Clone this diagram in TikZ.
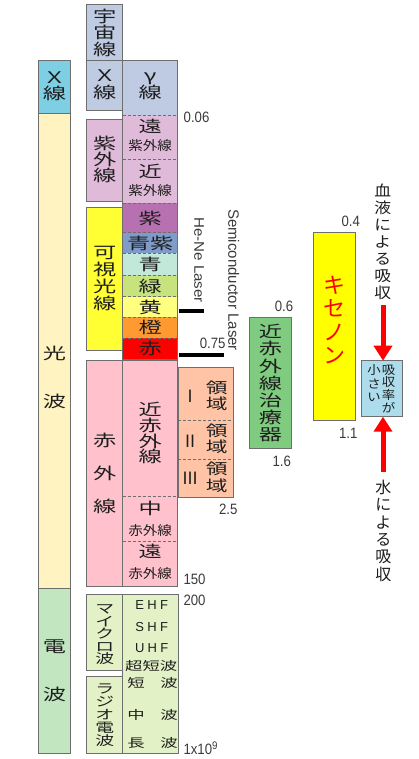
\documentclass[tikz,border=0pt]{standalone}
\usepackage{fontspec}
\setmainfont{Noto Sans CJK JP}
\newfontfamily\jp{Noto Sans CJK JP}
\newfontfamily\jpw[FakeStretch=1.45]{Noto Sans CJK JP}
\newfontfamily\jpm[FakeStretch=1.12]{Noto Sans CJK JP}
\newfontfamily\lat{Liberation Sans}
\newfontfamily\latw[FakeStretch=1.08]{Liberation Sans}
\newfontfamily\numf[FakeStretch=0.88]{Liberation Sans}
\usetikzlibrary{arrows.meta}
\newcommand\FW[2]{\jpw\fontsize{#1}{#2}\selectfont\lineskiplimit=-100pt\lineskip=0pt}
\newcommand\FM[2]{\jpm\fontsize{#1}{#2}\selectfont\lineskiplimit=-100pt\lineskip=0pt}
\newcommand\FJ[2]{\jp\fontsize{#1}{#2}\selectfont\lineskiplimit=-100pt\lineskip=0pt}
\definecolor{edge}{HTML}{6E6E6E}
\definecolor{ink}{HTML}{1E1E1E}
\definecolor{numc}{HTML}{3A3A3A}
\definecolor{xcyan}{HTML}{7ECFE4}
\definecolor{lightw}{HTML}{FFF3C2}
\definecolor{radio}{HTML}{C2E6C0}
\definecolor{gamc}{HTML}{BFCBE3}
\definecolor{uvc}{HTML}{E0BAD9}
\definecolor{visy}{HTML}{FFFF33}
\definecolor{cpurp}{HTML}{B871B0}
\definecolor{cbv}{HTML}{7F9CC9}
\definecolor{cblue}{HTML}{C2E8DA}
\definecolor{cgreen}{HTML}{C6E37E}
\definecolor{cyel}{HTML}{FFFF80}
\definecolor{corange}{HTML}{FF9A30}
\definecolor{cred}{HTML}{FF0000}
\definecolor{irc}{HTML}{FFC2CC}
\definecolor{regc}{HTML}{FFC4A6}
\definecolor{therc}{HTML}{7FCB7F}
\definecolor{xenon}{HTML}{FFFF00}
\definecolor{absc}{HTML}{ADDDEC}
\definecolor{mwc}{HTML}{E3F2C6}
\tikzset{
  cellst/.style={inner sep=0pt, outer sep=0pt, anchor=north west, line width=0.9pt},
  edgeline/.style={draw=edge, line width=0.9pt},
  divline/.style={draw=edge, line width=0.8pt, dash pattern=on 3pt off 2pt},
  jt/.style={align=center, inner sep=0pt, text=ink},
  numlab/.style={font=\numf\fontsize{15}{17}\selectfont, inner sep=0pt, text=numc},
  barline/.style={draw=black, line width=3.3pt},
  redarrow/.style={draw=red, line width=5pt, -{Triangle[length=15pt,width=18pt]}},
}
\newcommand\cell[6]{\node[cellst, #6, minimum width={(#4)-(#2)}, minimum height={(#5)-(#3)}] (#1) at (#2,#3) {};}
\begin{document}
\begin{tikzpicture}[x=1pt,y=-1pt]
\useasboundingbox (0,0) rectangle (418,759);

% ---- left column
\cell{lx}{38.3}{60.7}{70.7}{113.3}{fill=xcyan, draw=edge}
\cell{lhk}{38.3}{113.3}{70.7}{588.3}{fill=lightw, draw=edge}
\cell{ldp}{38.3}{588.3}{70.7}{753.3}{fill=radio, draw=edge}
\node[jt, font=\FW{16}{16}] (tlx) at (54.5,86) {Ｘ\\線};
\node[jt, font=\FW{16}{48}] (tlhk) at (54.5,377) {光\\波};
\node[jt, font=\FW{16}{48}] (tldp) at (54.5,671) {電\\波};

% ---- second column
\cell{cosm}{86.7}{4}{122.7}{60.7}{fill=gamc, draw=edge}
\cell{mx}{86.7}{60.7}{122.7}{110.7}{fill=gamc, draw=edge}
\cell{muv}{86.7}{119.3}{122.7}{201.7}{fill=uvc, draw=edge}
\cell{mvis}{86.7}{207.3}{122.7}{350}{fill=visy, draw=edge}
\cell{mir}{86.7}{360}{122.7}{586}{fill=irc, draw=edge}
\cell{mmw}{86.7}{594}{122.7}{670.7}{fill=mwc, draw=edge}
\cell{mrad}{86.7}{676}{122.7}{753.3}{fill=mwc, draw=edge}
\node[jt, font=\FW{16}{16.6}] (tcosm) at (104.7,32.7) {宇\\宙\\線};
\node[jt, font=\FW{16}{16.6}] (tmx) at (104.7,85) {Ｘ\\線};
\node[jt, font=\FW{16}{16}] (tmuv) at (104.7,159.5) {紫\\外\\線};
\node[jt, font=\FW{16}{17}] (tmvis) at (104.7,278.5) {可\\視\\光\\線};
\node[jt, font=\FW{16}{33.3}] (tmir) at (104.7,473.5) {赤\\外\\線};
\node[jt, font=\FW{13}{12.4}] (tmmw) at (104.7,634.7) {マ\\イ\\ク\\ロ\\波};
\node[jt, font=\FW{13}{13}] (tmrad) at (104.7,715.5) {ラ\\ジ\\オ\\電\\波};

% ---- third column
\cell{gm}{122.7}{60.7}{177.7}{115.7}{fill=gamc}
\cell{fuv}{122.7}{115.7}{177.7}{159.3}{fill=uvc}
\cell{nuv}{122.7}{159.3}{177.7}{203.3}{fill=uvc}
\cell{vp}{122.7}{203.3}{177.7}{232.7}{fill=cpurp}
\cell{vbv}{122.7}{232.7}{177.7}{253.3}{fill=cbv}
\cell{vb}{122.7}{253.3}{177.7}{275.3}{fill=cblue}
\cell{vg}{122.7}{275.3}{177.7}{296.7}{fill=cgreen}
\cell{vy}{122.7}{296.7}{177.7}{317.3}{fill=cyel}
\cell{vo}{122.7}{317.3}{177.7}{338.3}{fill=corange}
\cell{vr}{122.7}{338.3}{177.7}{359.3}{fill=cred}
\foreach \c in {gm,fuv,nuv,vp,vbv,vb,vg,vy,vo}
  \draw[divline] (\c.south west) -- (\c.south east);
\draw[edgeline] (gm.north west) rectangle (vr.south east);

\cell{nir}{122.7}{360}{177.7}{496.7}{fill=irc}
\cell{mdir}{122.7}{496.7}{177.7}{541.7}{fill=irc}
\cell{fir}{122.7}{541.7}{177.7}{586}{fill=irc}
\foreach \c in {nir,mdir}
  \draw[divline] (\c.south west) -- (\c.south east);
\draw[edgeline] (nir.north west) rectangle (fir.south east);

\cell{mwr}{122.7}{594}{178.3}{753.3}{fill=mwc, draw=edge}

\node[jt, font=\FW{16}{16.5}] (tgm) at (150.2,86) {γ\\線};
\node[jt, font=\FW{16}{16}] (tfuv1) at (150.2,126.7) {遠};
\node[jt, font=\FM{13}{14}] (tfuv2) at (150.2,145.7) {紫外線};
\node[jt, font=\FW{16}{16}] (tnuv1) at (150.2,171) {近};
\node[jt, font=\FM{13}{14}] (tnuv2) at (150.2,190.7) {紫外線};
\node[jt, font=\FW{16}{16}] (tvp) at (vp.center) {紫};
\node[jt, font=\FW{16}{16}] (tvbv) at (vbv.center) {青紫};
\node[jt, font=\FW{16}{16}] (tvb) at (vb.center) {青};
\node[jt, font=\FW{16}{16}] (tvg) at (vg.center) {緑};
\node[jt, font=\FW{16}{16}] (tvy) at (vy.center) {黄};
\node[jt, font=\FW{16}{16}] (tvo) at (vo.center) {橙};
\node[jt, font=\FW{16}{16}] (tvr) at (vr.center) {赤};
\node[jt, font=\FW{16}{15.6}] (tnir) at (150.2,433.3) {近\\赤\\外\\線};
\node[jt, font=\FW{16}{16}] (tmdir1) at (150.2,508.3) {中};
\node[jt, font=\FM{13}{14}] (tmdir2) at (150.2,530.7) {赤外線};
\node[jt, font=\FW{16}{16}] (tfir1) at (150.2,551.7) {遠};
\node[jt, font=\FM{13}{14}] (tfir2) at (150.2,573.3) {赤外線};

% microwave / radio labels
\node[jt, font=\lat\fontsize{13}{14}\selectfont] (tehf) at (151.7,605) {E\kern3.3pt H\kern3.3pt F};
\node[jt, font=\lat\fontsize{13}{14}\selectfont] (tshf) at (151.7,626.7) {S\kern3.3pt H\kern3.3pt F};
\node[jt, font=\lat\fontsize{13}{14}\selectfont] (tuhf) at (151.7,647.7) {U\kern3.3pt H\kern3.3pt F};
\node[jt, font=\FW{12}{13}] (tvhf) at (151.2,666) {超短波};
\node[jt, font=\FW{12}{13}] (tsw1) at (136,683.3) {短};
\node[jt, font=\FW{12}{13}] (tsw2) at (169,683.3) {波};
\node[jt, font=\FW{12}{13}] (tmw1) at (136,715) {中};
\node[jt, font=\FW{12}{13}] (tmw2) at (169,715) {波};
\node[jt, font=\FW{12}{13}] (tlw1) at (136,743.3) {長};
\node[jt, font=\FW{12}{13}] (tlw2) at (169,743.3) {波};

% ---- region box
\cell{rga}{178.3}{367.3}{233.3}{420}{fill=regc}
\cell{rgb}{178.3}{420}{233.3}{459.3}{fill=regc}
\cell{rgc}{178.3}{459.3}{233.3}{497.3}{fill=regc}
\foreach \c in {rga,rgb}
  \draw[divline] (\c.south west) -- (\c.south east);
\draw[edgeline] (rga.north west) rectangle (rgc.south east);
\node[jt, font=\FJ{17}{18}] (tra1) at (190,396.7) {Ⅰ};
\node[jt, font=\FW{15}{15.5}] (tra2) at (216.7,395.8) {領\\域};
\node[jt, font=\FJ{17}{18}] (trb1) at (190,441.7) {Ⅱ};
\node[jt, font=\FW{15}{16.5}] (trb2) at (216.7,439) {領\\域};
\node[jt, font=\FJ{17}{18}] (trc1) at (190,478.3) {Ⅲ};
\node[jt, font=\FW{15}{16.5}] (trc2) at (216.7,477.5) {領\\域};

% ---- lasers
\coordinate (hnA) at (179.3,311);
\coordinate (hnB) at (204,311);
\coordinate (sdA) at (179.3,355);
\coordinate (sdB) at (224,355);
\draw[barline] (hnA) -- (hnB);
\draw[barline] (sdA) -- (sdB);
\node[inner sep=0pt, text=numc, rotate=-90, font=\latw\fontsize{14}{16}\selectfont] (thene) at (199,260) {He-Ne Laser};
\node[inner sep=0pt, text=numc, rotate=-90, font=\lat\fontsize{15}{17}\selectfont] (tsemi) at (233.8,280) {Semiconductor Laser};

% ---- therapy device
\cell{ther}{249.3}{317.3}{291.7}{448.3}{fill=therc, draw=edge}
\node[jt, font=\FW{16}{17.2}] (tther) at (270.5,383.3) {近\\赤\\外\\線\\治\\療\\器};

% ---- xenon
\cell{xen}{313.3}{232.3}{355.7}{420.7}{fill=xenon, draw=edge}
\node[jt, text=red, font=\FJ{22}{23.3}] (txen) at (334.5,320) {キ\\セ\\ノ\\ン};

% ---- absorption
\cell{absb}{361}{360.7}{402.3}{416.7}{fill=absc, draw=edge}
\node[jt, anchor=north, font=\FM{12}{12.7}] (tabs1) at (388.7,364.5) {吸\\収\\率\\が};
\node[jt, anchor=north, font=\FM{12}{13.6}] (tabs2) at (374,364.5) {小\\さ\\い};
\node[jt, font=\FM{15}{17}] (tblood) at (382.7,241.7) {血\\液\\に\\よ\\る\\吸\\収};
\node[jt, font=\FJ{16}{17.3}] (twater) at (383.3,530.8) {水\\に\\よ\\る\\吸\\収};
\coordinate (dtop) at (383,305);
\coordinate (ubot) at (383,472);
\draw[redarrow] (dtop) -- (dtop |- absb.north);
\draw[redarrow] (ubot) -- (ubot |- absb.south);

% ---- numbers
\node[numlab, anchor=west] (n006) at (183.5,117.3) {0.06};
\node[numlab, anchor=east] (n075) at (225.7,343.7) {0.75};
\node[numlab] (n06) at (284,306.7) {0.6};
\node[numlab] (n04) at (350.7,221.7) {0.4};
\node[numlab] (n11) at (348.3,433.3) {1.1};
\node[numlab] (n16) at (281.7,461.7) {1.6};
\node[numlab] (n25) at (228.3,509.5) {2.5};
\node[numlab, anchor=west] (n150) at (183.3,579.3) {150};
\node[numlab, anchor=west] (n200) at (183.3,600.7) {200};
\node[numlab, anchor=west] (n1e9) at (183.3,748) {1x10\raisebox{5.5pt}{\fontsize{11}{11}\selectfont 9}};
\end{tikzpicture}
\end{document}
